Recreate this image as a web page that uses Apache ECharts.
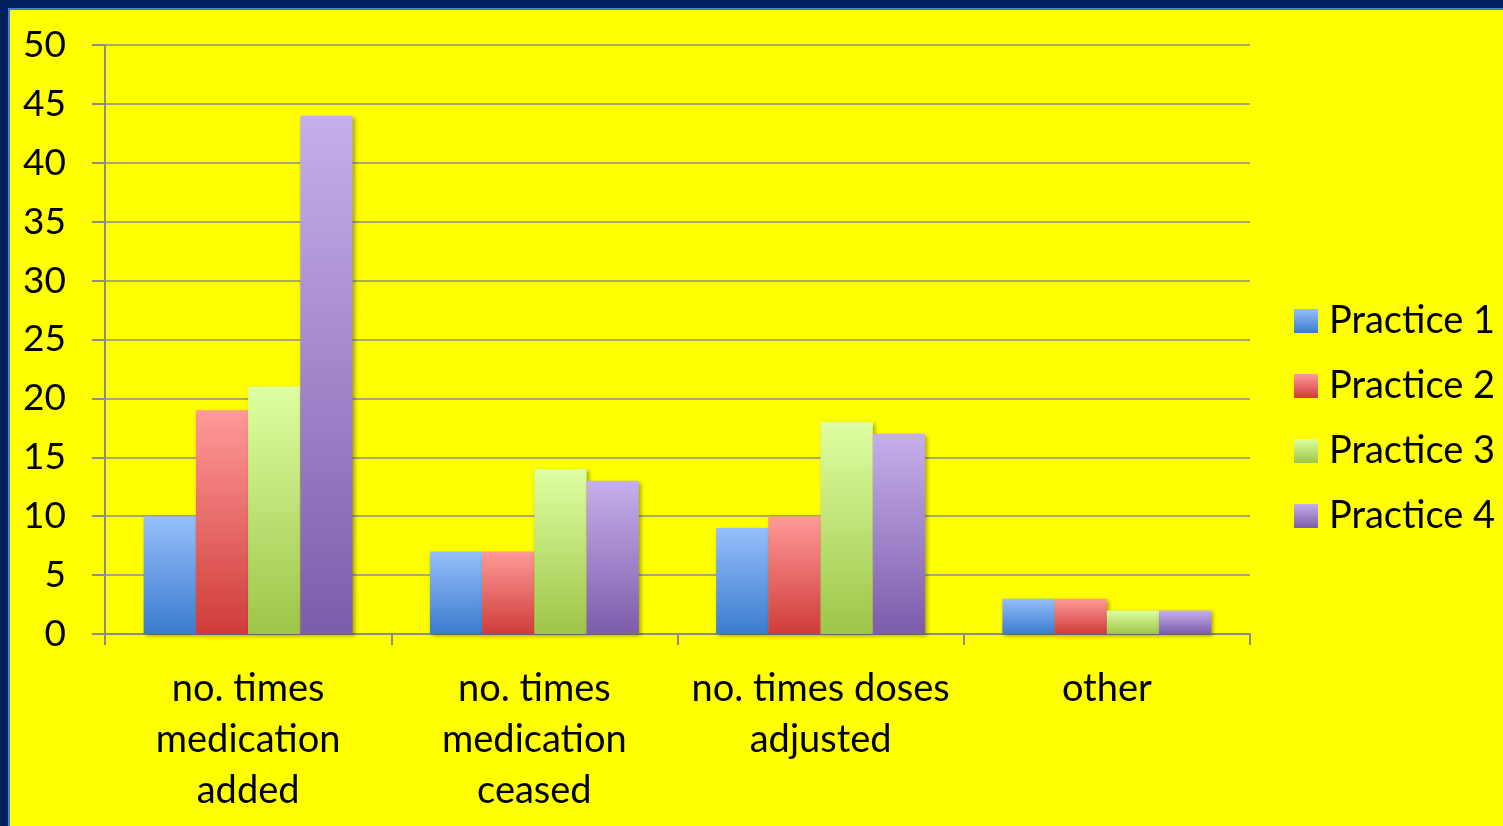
<!DOCTYPE html>
<html>
<head>
<meta charset="utf-8">
<script src="https://cdn.jsdelivr.net/npm/echarts@6/dist/echarts.min.js"></script>
<style>
html,body{margin:0;padding:0;background:#ffff00;}
#chart{width:1503px;height:826px;}
</style>
</head>
<body>
<div id="chart"></div>
<script>
const categories = ['no. times\nmedication\nadded', 'no. times\nmedication\nceased', 'no. times doses\nadjusted', 'other'];
const practice1 = [10, 7, 9, 3];
const practice2 = [19, 7, 10, 3];
const practice3 = [21, 14, 18, 2];
const practice4 = [44, 13, 17, 2];
const seriesNames = ['Practice 1', 'Practice 2', 'Practice 3', 'Practice 4'];
const yTicks = [0, 5, 10, 15, 20, 25, 30, 35, 40, 45, 50];

const FONT = 'Lato';
const grads = [
  ['#96bffb', '#3b7bce'],
  ['#ff9a98', '#cf3c3a'],
  ['#deffa2', '#9dc548'],
  ['#c6afec', '#7d5caa']
];
function grad(c) {
  return new echarts.graphic.LinearGradient(0, 0, 0, 1, [
    { offset: 0, color: c[0] }, { offset: 1, color: c[1] }
  ]);
}
const dataSets = [practice1, practice2, practice3, practice4];

const chart = echarts.init(document.getElementById('chart'));
chart.setOption({
  backgroundColor: '#ffff00',
  animation: false,
  graphic: [
    { type: 'rect', shape: { x: 0, y: 0, width: 1503, height: 8 }, style: { fill: '#002060' }, z: 100 },
    { type: 'rect', shape: { x: 0, y: 0, width: 8, height: 826 }, style: { fill: '#002060' }, z: 100 },
    { type: 'rect', shape: { x: 8, y: 8, width: 1495, height: 2 }, style: { fill: '#4a7ec8' }, z: 100 },
    { type: 'rect', shape: { x: 8, y: 8, width: 2, height: 818 }, style: { fill: '#4a7ec8' }, z: 100 }
  ],
  grid: { left: 105, right: 253, top: 45, bottom: 192, containLabel: false },
  legend: {
    orient: 'vertical',
    left: 1294,
    top: 301,
    padding: 0,
    itemWidth: 24,
    itemHeight: 24,
    itemGap: 25,
    icon: 'rect',
    data: seriesNames,
    textStyle: { fontFamily: FONT, fontSize: 38, color: '#000', lineHeight: 40, padding: [0, 0, 0, 6] }
  },
  xAxis: {
    type: 'category',
    data: categories,
    axisLine: { lineStyle: { color: '#8c8c8c', width: 2 } },
    axisTick: { show: true, length: 11, lineStyle: { color: '#8c8c8c', width: 2 } },
    axisLabel: { fontFamily: FONT, fontSize: 38, color: '#000', lineHeight: 51, margin: 29, interval: 0 }
  },
  yAxis: {
    type: 'value',
    min: 0, max: 50, interval: 5,
    axisLine: { show: true, lineStyle: { color: '#8c8c8c', width: 2 } },
    axisTick: { show: true, length: 13, lineStyle: { color: '#8c8c8c', width: 2 } },
    splitLine: { lineStyle: { color: '#8c8c8c', width: 1.5 } },
    axisLabel: {
      fontFamily: FONT, fontSize: 37, color: '#000', margin: 39,
      formatter: v => yTicks.includes(v) ? String(v) : ''
    }
  },
  series: dataSets.map((d, i) => ({
    name: seriesNames[i],
    type: 'bar',
    data: d,
    barGap: '0%',
    barCategoryGap: '27%',
    itemStyle: {
      color: grad(grads[i]),
      shadowColor: 'rgba(0,0,0,0.35)',
      shadowBlur: 4,
      shadowOffsetX: 2,
      shadowOffsetY: 2
    }
  }))
});
</script>
</body>
</html>
